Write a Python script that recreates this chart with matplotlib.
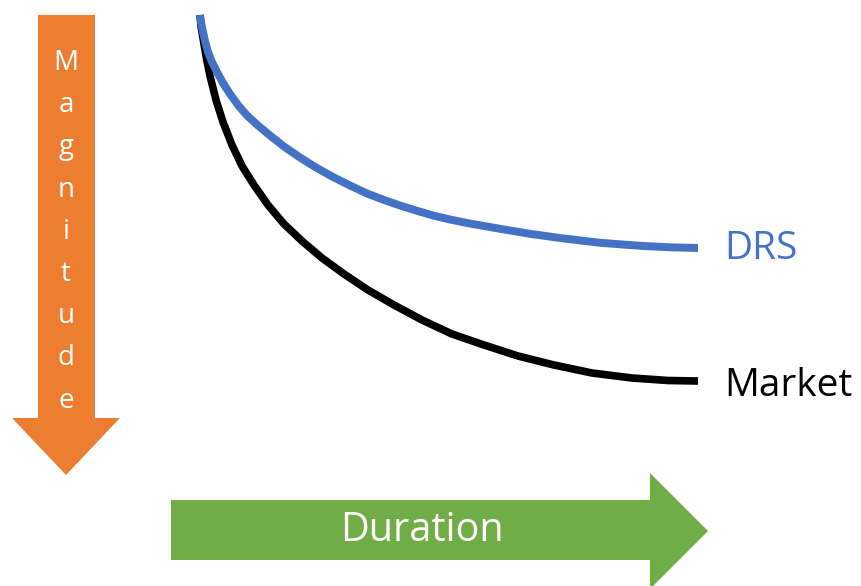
import matplotlib.pyplot as plt
from matplotlib.patches import Polygon

# Curve data (pixel-style coordinates, y grows downward)
duration_drs = [200, 201, 203, 205, 208, 212, 217, 223, 230, 238, 247, 258, 270, 284, 300,
                316, 333, 350, 367, 384, 400, 416, 433, 450, 467, 484, 500, 530, 560, 600,
                640, 670, 698]
drs = [15, 22, 32, 41, 52, 62, 72, 83, 94, 105, 115.5, 125.5, 135.5, 146.5, 157.5,
       167.5, 177, 185.5, 193.5, 200, 205.5, 210.5, 215.5, 219.5, 223, 226, 228.8, 233.8, 238, 242.8,
       245.8, 247.3, 248]

duration_mkt = [200, 201, 203, 206, 210, 216, 223, 232, 242, 254, 268, 284, 302, 322, 344,
                368, 394, 422, 452, 484, 518, 554, 592, 632, 668, 698]
market = [15, 26, 38, 56, 76, 100, 122, 145, 166, 185, 205, 224, 241, 258, 274,
          290, 305, 320, 334, 345, 356, 365, 373, 378, 380.5, 381]

series_labels = ['DRS', 'Market']
series_colors = ['#4472C4', '#000000']
axis_labels = ['Magnitude', 'Duration']

orange = '#ED7D31'
green = '#70AD47'
font = 'Open Sans'

fig = plt.figure(figsize=(8.61, 5.86), dpi=100)
ax = fig.add_axes([0, 0, 1, 1])
ax.set_xlim(0, 861)
ax.set_ylim(586, 0)
ax.axis('off')

# Magnitude arrow (down)
ax.add_patch(Polygon([(38, 15), (95, 15), (95, 418), (120, 418), (66, 475),
                      (12, 418), (38, 418)], closed=True, color=orange, lw=0))
for i, ch in enumerate(axis_labels[0]):
    ax.text(66, 70 + i * 42.2, ch, color='white', fontsize=20, family=font,
            ha='center', va='baseline')

# Duration arrow (right)
ax.add_patch(Polygon([(171, 500), (650, 500), (650, 473), (708, 531),
                      (650, 589), (650, 560), (171, 560)], closed=True, color=green, lw=0))
ax.text(422, 531, axis_labels[1], color='white', fontsize=28.5, family=font,
        ha='center', va='center')

# Curves (market first so DRS sits on top where they meet)
ax.plot(duration_mkt, market, color=series_colors[1], lw=5.5, solid_capstyle='butt')
ax.plot(duration_drs, drs, color=series_colors[0], lw=5.7, solid_capstyle='butt')
ax.text(724, drs[-1] + 1, series_labels[0], color=series_colors[0], fontsize=28,
        family=font, ha='left', va='center')
ax.text(724, market[-1] + 5, series_labels[1], color=series_colors[1], fontsize=28,
        family=font, ha='left', va='center')

fig.savefig('out.png', dpi=100)
